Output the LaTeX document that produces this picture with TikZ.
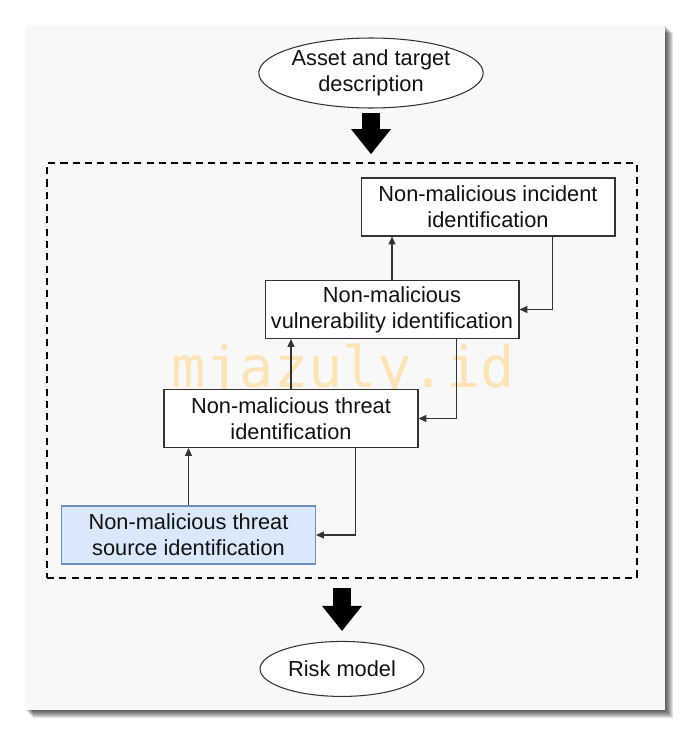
\documentclass[tikz,border=0pt]{standalone}
\usepackage{fontspec}
\setmainfont{Liberation Sans}
\newfontfamily\markfont{DejaVu Sans Mono}
\usepackage{tikz}
\usetikzlibrary{positioning}
\usetikzlibrary{calc,arrows.meta}
\usetikzlibrary{shapes.geometric}
\definecolor{rm-text}{HTML}{111111}
\definecolor{rm-line}{HTML}{333333}
\definecolor{rm-panel}{HTML}{F8F8F8}
\definecolor{rm-blue}{HTML}{DAE8FC}
\definecolor{rm-blueline}{HTML}{6C8EBF}
\definecolor{rm-mark}{HTML}{FDE3B8}

\begin{document}
\begin{tikzpicture}[
    x=0.02cm, y=-0.02cm, % one unit is one pixel of the sketch
    font=\fontsize{12.4pt}{14.8pt}\selectfont,
    >={Triangle[length=4.5pt,width=4pt]}
  ]

  \tikzset{
    stage/.style={draw=rm-line, line width=0.6pt, fill=white, minimum width=5.08cm, minimum height=1.16cm, text=rm-text, align=center, inner sep=2pt},
    source/.style={stage, draw=rm-blueline, fill=rm-blue},
    io/.style={draw=rm-line, line width=0.6pt, fill=white, ellipse, inner sep=0pt, text=rm-text, align=center},
    flow/.style={->, draw=rm-line, line width=0.6pt},
    bigarrow/.style={line width=0.36cm, -{Triangle[width=0.8cm,length=0.5cm,line width=0pt]}}
  }

  \useasboundingbox (0,0) rectangle (690,734);

  % Panel with its soft shadow
  \foreach \d in {1,...,8}
    \fill[black, opacity=0.11] (25+\d,25+\d) rectangle (665+\d,710+\d);
  \fill[rm-panel] (25,25) rectangle (665,710);

  % Watermark
  \node (mark) [anchor=base, text=rm-mark, font=\markfont\fontsize{32.5pt}{32.5pt}\selectfont] at (343,387) {mjazuly.id};

  % Input, frame and output
  \node (asset) [io, minimum width=4.36cm, minimum height=1.4cm] at (371,73) {Asset and target\\description};
  \node (frame) [draw, line width=1.1pt, dash pattern=on 4pt off 3pt, minimum width=11.8cm, minimum height=8.3cm] at (342,370.5) {};
  \node (risk)  [io, minimum width=3.28cm, minimum height=1.1cm, below=1.24cm of frame] {Risk model};

  % Identification steps, bottom-left to top-right
  \node (inc) [stage]  at (488,207)   {Non-malicious incident\\identification};
  \node (vul) [stage]  at (392,309.5) {Non-malicious\\vulnerability identification};
  \node (thr) [stage]  at (291,418.5) {Non-malicious threat\\identification};
  \node (src) [source] at (188.5,535) {Non-malicious threat\\source identification};

  % Upward steps
  \draw[flow] (src.north) -- (src.north |- thr.south);
  \draw[flow] (thr.north) -- (thr.north |- vul.south);
  \draw[flow] (vul.north) -- (vul.north |- inc.south);

  % Feedback loops
  \draw[flow] ($(inc.south east)+(-63,0)$) |- (vul.east);
  \draw[flow] ($(vul.south east)+(-63,0)$) |- (thr.east);
  \draw[flow] ($(thr.south east)+(-63,0)$) |- (src.east);

  % Block arrows in and out
  \draw[bigarrow, shorten <=0.08cm, shorten >=0.16cm] (asset.south) -- (asset.south |- frame.north);
  \draw[bigarrow, shorten <=0.18cm, shorten >=0.2cm] (frame.south) -- (risk.north);

\end{tikzpicture}
\end{document}
